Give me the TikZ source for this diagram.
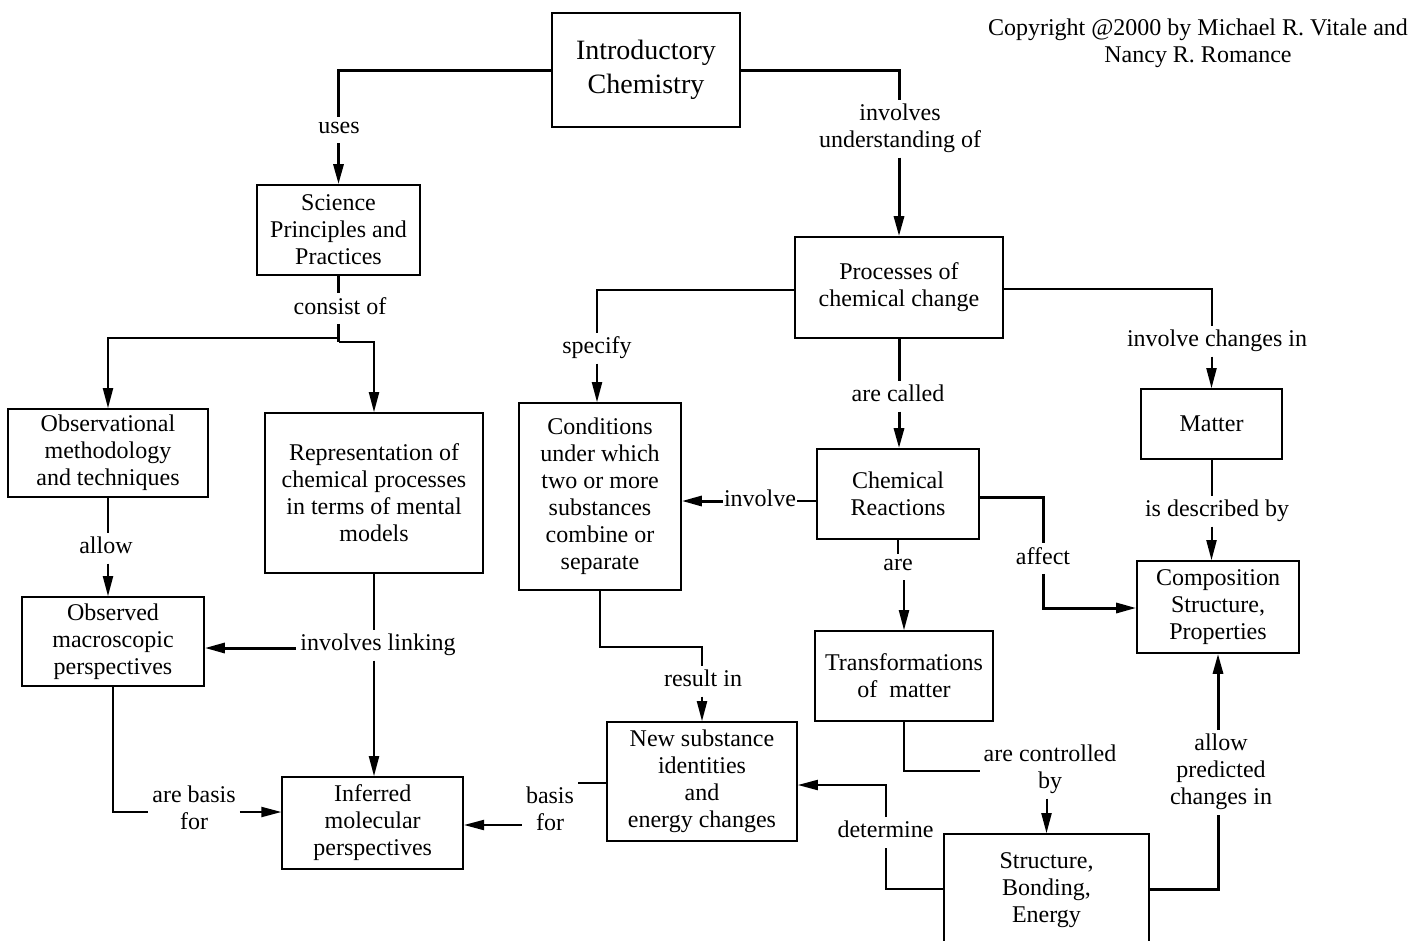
\documentclass[tikz,border=0pt]{standalone}
\usepackage{fontspec}
\setmainfont{Liberation Serif}
\usetikzlibrary{arrows.meta}
\newcommand\fs{\fontsize{24pt}{27pt}\selectfont}
\newcommand\fb{\fontsize{28pt}{34pt}\selectfont}
\newcommand\st{\rule[-5.5pt]{0pt}{18pt}}
\begin{document}
\begin{tikzpicture}[x=1pt,y=-1pt,
  box/.style={draw, line width=1.6pt, align=center, font=\fs, inner sep=0pt},
  lbl/.style={align=center, font=\fs, inner sep=4pt, anchor=north},
  ln/.style={line width=2pt},
  thk/.style={line width=3pt},
  arr/.style={-{Triangle[length=20pt,width=10pt]}}]
\useasboundingbox (0,0) rectangle (1416,940);
\fill[white] (0,0) rectangle (1416,940);

% boxes
\node[box, font=\fb, minimum width=188pt, minimum height=114pt] (intro) at (646,70) {Introductory\\Chemistry};
\node[box, minimum width=163pt, minimum height=90pt] (sci) at (338.5,230) {Science\\Principles and\\Practices};
\node[box, minimum width=200pt, minimum height=88pt] (obs) at (108,453) {Observational\\methodology\\and techniques};
\node[box, minimum width=218pt, minimum height=160pt] (rep) at (374,493) {Representation of\\chemical processes\\in terms of mental\\models};
\node[box, minimum width=182pt, minimum height=89pt] (obsd) at (113,641.5) {Observed\\macroscopic\\perspectives};
\node[box, minimum width=181pt, minimum height=92pt] (inf) at (372.7,823) {Inferred\\molecular\\perspectives};
\node[box, minimum width=208pt, minimum height=101pt] (proc) at (899,287.5) {Processes of\\chemical change};
\node[box, minimum width=162pt, minimum height=187pt] (cond) at (600,496.5) {Conditions\\under which\\two or more\\substances\\combine or\\separate};
\node[box, minimum width=162pt, minimum height=90pt] (cr) at (898,494) {Chemical\\Reactions};
\node[box, minimum width=141pt, minimum height=70pt] (matter) at (1211.5,424) {Matter};
\node[box, minimum width=162pt, minimum height=92pt] (comp) at (1218,607) {Composition\\Structure,\\Properties};
\node[box, minimum width=178pt, minimum height=90pt] (trans) at (904,676) {Transformations\\of\ \ matter};
\node[box, minimum width=190pt, minimum height=119pt] (ns) at (702,781.5) {New substance\\identities\\and\\energy changes};
\node[box, minimum width=205pt, minimum height=112pt] (sbe) at (1046.5,890) {Structure,\\Bonding,\\Energy};

% copyright
\node[lbl, inner sep=0pt] (copy) at (1198,19) {\st Copyright @2000 by Michael R. Vitale and\\\st Nancy R. Romance};

% labels
\node[lbl] (uses) at (339,117) {\st uses};
\node[lbl] (invu) at (900,100) {\st involves\\\st understanding of};
\node[lbl] (consist) at (340,293) {\st consist of};
\node[lbl] (allow) at (106,533) {\st allow};
\node[lbl] (invlink) at (378,630) {\st involves linking};
\node[lbl] (specify) at (597,332.7) {\st specify};
\node[lbl] (arecalled) at (898,381) {\st are called};
\node[lbl] (invch) at (1217,326) {\st involve changes in};
\node[lbl] (isdesc) at (1217,496) {\st is described by};
\node[lbl, inner xsep=1pt] (involve) at (760,486) {\st involve};
\node[lbl] (are) at (898,554) {\st are};
\node[lbl] (affect) at (1043,543) {\st affect};
\node[lbl] (resultin) at (703,666) {\st result in};
\node[lbl] (basisfor) at (550,783) {\st basis\\\st for};
\node[lbl] (arebasis) at (194,781.5) {\st are basis\\\st for};
\node[lbl] (arectrl) at (1050,741) {\st are controlled\\\st by};
\node[lbl] (determine) at (885.5,817) {\st determine};
\node[lbl] (allowpred) at (1221,730) {\st allow\\\st predicted\\\st changes in};

% connectors
\draw[thk] (intro.west) -| (sci.north |- uses.north);
\draw[thk,arr] (sci.north |- uses.south) -- (sci.north);
\draw[thk] (intro.east) -| (proc.north |- invu.north);
\draw[thk,arr] (proc.north |- invu.south) -- (proc.north);

\coordinate (cs) at (sci.south |- 0,338);
\coordinate (cs2) at (sci.south |- 0,342);
\draw[thk] (sci.south) -- (sci.south |- consist.north);
\draw[thk] (sci.south |- consist.south) -- (cs2);
\draw[ln,arr] (cs) -| (obs.north);
\draw[ln,arr] (cs2) -| (rep.north);

\draw[ln] (obs.south) -- (obs.south |- allow.north);
\draw[ln,arr] (obs.south |- allow.south) -- (obs.south |- obsd.north);

\draw[ln] (rep.south) -- (rep.south |- invlink.north);
\draw[ln,arr] (rep.south |- invlink.south) -- (rep.south |- inf.north);
\draw[thk,arr] (invlink.west |- 0,648) -- (obsd.east |- 0,648);

\draw[ln] (obsd.south) |- (arebasis.west |- 0,812);
\draw[ln,arr] (arebasis.east |- 0,812) -- (inf.west |- 0,812);

\draw[ln] (proc.west |- 0,290) -| (specify.north);
\draw[ln,arr] (specify.south) -- (specify.south |- cond.north);
\draw[thk] (proc.south) -- (proc.south |- arecalled.north);
\draw[thk,arr] (proc.south |- arecalled.south) -- (proc.south |- cr.north);
\draw[ln] (proc.east |- 0,289) -| (matter.north |- invch.north);
\draw[ln,arr] (matter.north |- invch.south) -- (matter.north);
\draw[ln] (matter.south) -- (matter.south |- isdesc.north);
\draw[ln,arr] (matter.south |- isdesc.south) -- (matter.south |- comp.north);

\draw[ln] (cr.west |- 0,501) -- (involve.east |- 0,501);
\draw[thk,arr] (involve.west |- 0,501) -- (cond.east |- 0,501);
\draw[ln] (cr.south) -- (cr.south |- are.north);
\draw[ln,arr] (trans.north |- are.south) -- (trans.north);
\draw[thk] (cr.east |- 0,497) -| (affect.north);
\draw[thk,arr] (affect.south) |- (comp.west |- 0,608);

\coordinate (ri) at (ns.north |- 0,647);
\draw[ln] (cond.south) |- (ri) -- (ri |- resultin.north);
\draw[ln,arr] (ri |- resultin.south) -- (ns.north);

\draw[ln] (ns.west |- 0,783) -- (basisfor.east |- 0,783);
\draw[ln,arr] (basisfor.west |- 0,825) -- (inf.east |- 0,825);

\draw[ln] (trans.south) |- (arectrl.west |- 0,771);
\draw[ln,arr] (sbe.north |- arectrl.south) -- (sbe.north);
\draw[ln] (sbe.west |- 0,889) -| (determine.south);
\draw[ln,arr] (determine.north) |- (ns.east |- 0,785);
\draw[thk] (sbe.east |- 0,889) -| (comp.south |- allowpred.south);
\draw[thk,arr] (comp.south |- allowpred.north) -- (comp.south);
\end{tikzpicture}
\end{document}
